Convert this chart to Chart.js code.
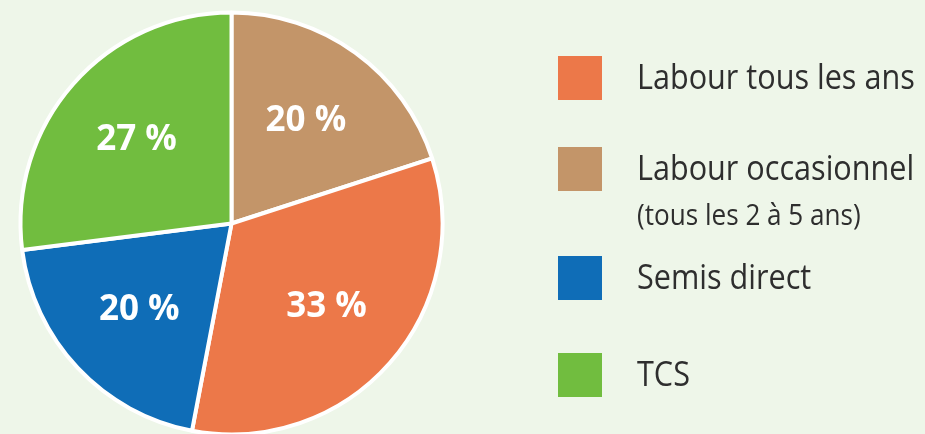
<!DOCTYPE html>
<html>
<head>
<meta charset="utf-8">
<script src="https://cdn.jsdelivr.net/npm/chart.js@4"></script>
<style>
  html, body { margin: 0; padding: 0; background: #eef6e9; }
  #wrap { width: 925px; height: 434px; position: relative; }
</style>
</head>
<body>
<div id="wrap"><canvas id="pieChart"></canvas></div>
<script>
// slices, clockwise from 12 o'clock
const categories = ["Labour occasionnel", "Labour tous les ans", "Semis direct", "TCS"];
const subLabels = ["(tous les 2 à 5 ans)", "", "", ""];
const shares = [20, 33, 20, 27];
const sliceColors = ["#c39569", "#ec7849", "#0f6db7", "#71bd3f"];
// legend lists the slices in this order
const legendOrder = [1, 0, 2, 3];

// layout of the legend on the right
const legendBox = { x: 558, size: 44, textX: 637 };
const legendRowTop = [56, 147, 256, 353];

const pieLabels = {
  id: "pieLabels",
  afterDatasetsDraw(chart) {
    const ctx = chart.ctx;
    const meta = chart.getDatasetMeta(0);
    ctx.save();
    ctx.fillStyle = "#ffffff";
    ctx.font = "bold 35px 'Open Sans'";
    ctx.textAlign = "center";
    ctx.textBaseline = "middle";
    meta.data.forEach((arc, i) => {
      const p = arc.getProps(["x", "y", "startAngle", "endAngle", "outerRadius"], true);
      const mid = (p.startAngle + p.endAngle) / 2;
      const r = p.outerRadius * 0.6;
      ctx.fillText(shares[i] + " %", p.x + Math.cos(mid) * r, p.y + Math.sin(mid) * r);
    });
    ctx.restore();
  },
};

const sideLegend = {
  id: "sideLegend",
  afterDraw(chart) {
    const ctx = chart.ctx;
    ctx.save();
    legendOrder.forEach((idx, row) => {
      const top = legendRowTop[row];
      ctx.fillStyle = sliceColors[idx];
      ctx.fillRect(legendBox.x, top, legendBox.size, legendBox.size);

      ctx.fillStyle = "#2e2e2e";
      ctx.textAlign = "left";
      ctx.textBaseline = "alphabetic";
      // condensed look of the original typeface
      ctx.save();
      ctx.translate(legendBox.textX, top + 33);
      ctx.scale(0.9, 1);
      ctx.font = "34px 'Open Sans'";
      ctx.fillText(categories[idx], 0, 0);
      if (subLabels[idx]) {
        ctx.font = "29px 'Open Sans'";
        ctx.fillText(subLabels[idx], 0, 45);
      }
      ctx.restore();
    });
    ctx.restore();
  },
};

const pieChart = new Chart(document.getElementById("pieChart"), {
  type: "pie",
  data: {
    labels: categories,
    datasets: [
      {
        data: shares,
        backgroundColor: sliceColors,
        borderColor: "#ffffff",
        borderWidth: 4,
      },
    ],
  },
  options: {
    responsive: true,
    maintainAspectRatio: false,
    animation: false,
    radius: 211,
    layout: {
      padding: { left: 21, right: 483, top: 13, bottom: 0 },
    },
    plugins: {
      legend: { display: false },
      tooltip: { enabled: false },
    },
  },
  plugins: [pieLabels, sideLegend],
});
</script>
</body>
</html>
